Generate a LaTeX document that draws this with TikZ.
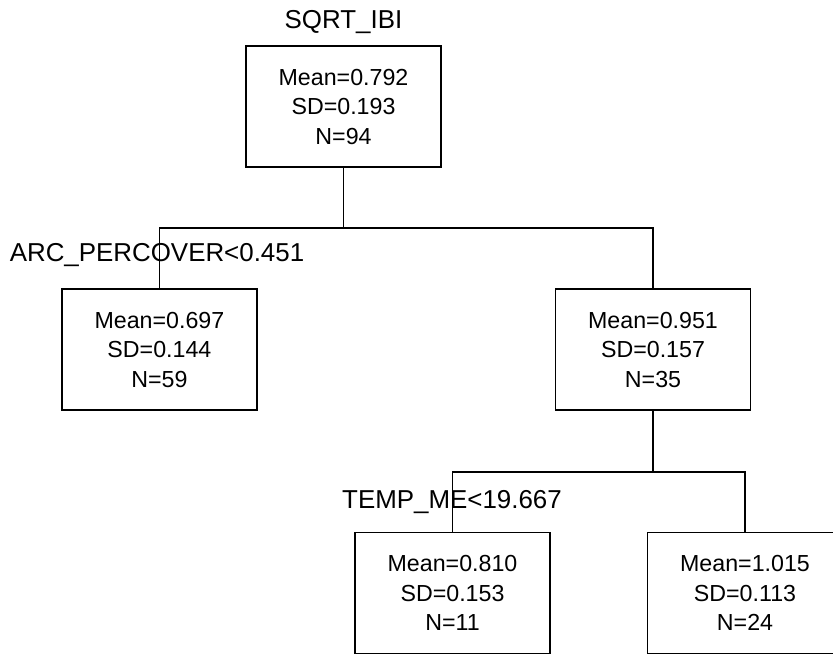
\documentclass[tikz,border=0pt]{standalone}
\usepackage{fontspec}
\setmainfont{Liberation Sans}
\begin{document}
\begin{tikzpicture}[x=1bp,y=-1bp,
  treebox/.style={draw=black, line width=1.7bp, minimum width=195bp, minimum height=121bp,
    inner sep=0pt, align=center, font=\fontsize{23.3}{29.5}\selectfont},
  splitlabel/.style={inner sep=0pt, font=\fontsize{26}{30}\selectfont},
  branch/.style={draw=black, line width=1.7bp}]
\useasboundingbox (0,0) rectangle (833,655);
\clip (0,0) rectangle (833,655);

% tree nodes
\node[treebox] (root)  at (343.5,106.7) {Mean=0.792\\SD=0.193\\N=94};
\node[treebox] (left)  at (159.4,349.8) {Mean=0.697\\SD=0.144\\N=59};
\node[treebox] (right) at (653,349.8)   {Mean=0.951\\SD=0.157\\N=35};
\node[treebox] (rl)    at (452.5,593)   {Mean=0.810\\SD=0.153\\N=11};
\node[treebox] (rr)    at (745,593)     {Mean=1.015\\SD=0.113\\N=24};

% labels
\node[splitlabel] (title) at (343.5,22) {SQRT\_IBI};
\node[splitlabel] (split1) at (157,255) {ARC\_PERCOVER<0.451};
\node[splitlabel] (split2) at (452,502) {TEMP\_ME<19.667};

% branch joints
\coordinate (j1) at (343.5,228);
\coordinate (j2) at (653,472);

% connectors
\draw[branch] (root.south) -- (j1);
\draw[branch] (left.north) |- (j1) -| (right.north);
\draw[branch] (right.south) -- (j2);
\draw[branch] (rl.north) |- (j2) -| (rr.north);
\end{tikzpicture}
\end{document}
